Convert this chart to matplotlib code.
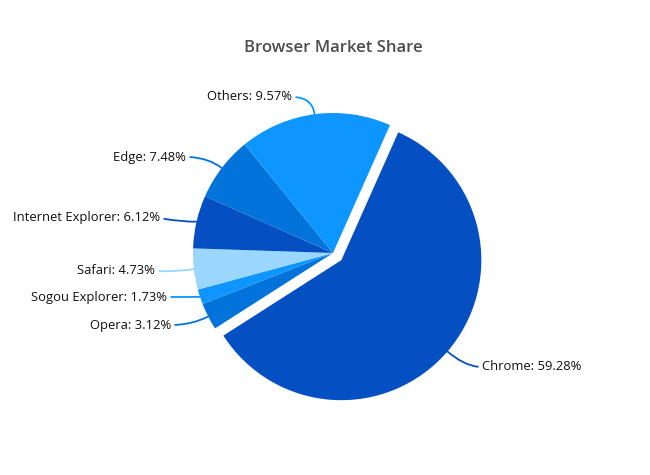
import matplotlib
matplotlib.use('Agg')
import matplotlib.pyplot as plt
import numpy as np

# Data (slice sizes, label texts as shown)
browsers = ['Chrome', 'Opera', 'Sogou Explorer', 'Safari', 'Internet Explorer', 'Edge', 'Others']
shares = [59.28, 3.12, 1.73, 4.73, 6.12, 7.48, 17.54]
label_pct = ['59.28%', '3.12%', '1.73%', '4.73%', '6.12%', '7.48%', '9.57%']
colors = ['#0450c2', '#0173da', '#0d96ff', '#9ad6fe', '#0450c2', '#0173da', '#0d96ff']

plt.rcParams['font.family'] = ['Open Sans', 'DejaVu Sans']

W, H = 650, 475
fig = plt.figure(figsize=(W / 100, H / 100), dpi=100)
ax = fig.add_axes([0, 0, 1, 1])

cx, cy = 333, H - 253
R = 140
start = 66
explode = [11, 0, 0, 0, 0, 0, 0]

wedges, _ = ax.pie(shares, colors=colors, startangle=start, counterclock=False,
                   radius=R, center=(cx, cy), explode=explode,
                   wedgeprops=dict(linewidth=0))

ax.set_xlim(0, W)
ax.set_ylim(0, H)
ax.set_aspect('equal')
ax.axis('off')

# label positions in pixels (x, y from top), with alignment
label_pos = {
    'Chrome': (482, 367, 'left'),
    'Opera': (171, 325, 'right'),
    'Sogou Explorer': (167, 297, 'right'),
    'Safari': (155, 271, 'right'),
    'Internet Explorer': (160, 218, 'right'),
    'Edge': (186, 157, 'right'),
    'Others': (292, 97, 'right'),
}

for w, name, pct, col in zip(wedges, browsers, label_pct, colors):
    mid = np.deg2rad((w.theta1 + w.theta2) / 2)
    wx, wy = w.center
    ax_pt = (wx + R * np.cos(mid), wy + R * np.sin(mid))
    tx, ty, ha = label_pos[name]
    ang = np.rad2deg(mid) % 180
    if abs(np.sin(np.deg2rad(ang))) < 0.3:
        conn = 'arc3,rad=0.05'
    else:
        conn = 'angle3,angleA=0,angleB=%.1f' % np.rad2deg(mid)
    ax.annotate(f'{name}: {pct}', xy=ax_pt, xytext=(tx, H - ty),
                ha=ha, va='center', fontsize=9.4, color='#111111',
                arrowprops=dict(arrowstyle='-', color=col, lw=1.3,
                                connectionstyle=conn, shrinkA=1, shrinkB=0,
                                relpos=(0, 0.5) if ha == 'left' else (1, 0.5)))

ax.text(cx, H - 48, 'Browser Market Share', ha='center', va='center',
        fontsize=12, fontweight='semibold', color='#4d4d4d')

fig.savefig('out.png', dpi=100)
